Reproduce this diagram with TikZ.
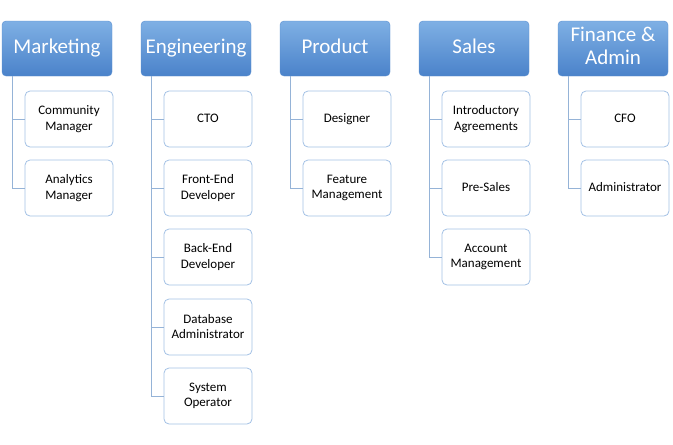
\documentclass[tikz,border=0pt]{standalone}
\usepackage{fontspec}
\setmainfont{Carlito}
\definecolor{headtop}{HTML}{7FB0E4}
\definecolor{headbot}{HTML}{4A82CA}
\definecolor{headline}{HTML}{5B8FD0}
\definecolor{childline}{HTML}{A3C1E5}
\definecolor{connline}{HTML}{95B3D7}
\newcommand\headstrut{\rule[-5pt]{0pt}{15pt}}
\newcommand\childstrut{\rule[-1.5pt]{0pt}{9.9pt}}
\tikzset{
  head/.style={draw=headline, rounded corners=4pt, top color=headtop, bottom color=headbot,
    minimum width=110pt, minimum height=55pt, text=white, font=\fontsize{21}{23}\selectfont,
    align=center, inner sep=1pt, execute at begin node=\headstrut, execute at end node=\headstrut},
  child/.style={draw=childline, line width=0.8pt, rounded corners=5pt, fill=white,
    minimum width=88pt, minimum height=56pt, font=\fontsize{13}{15.5}\selectfont,
    align=center, inner sep=1pt, execute at begin node=\childstrut, execute at end node=\childstrut},
  conn/.style={draw=connline, line width=1pt}
}
\begin{document}
\begin{tikzpicture}[x=1pt,y=-1pt]
\useasboundingbox (0,0) rectangle (673,445);
% heads
\node[head] (mkt) at (57,48.5) {Marketing};
\node[head] (eng) at (196,48.5) {Engineering};
\node[head] (prd) at (335,48.5) {Product};
\node[head] (sal) at (474,48.5) {Sales};
\node[head] (fin) at (613,48.5) {Finance \&\\Admin};
% marketing
\node[child] (mkt1) at (69,119) {Community\\Manager};
\node[child] (mkt2) at (69,188) {Analytics\\Manager};
% engineering
\node[child] (eng1) at (208,119) {CTO};
\node[child] (eng2) at (208,188) {Front-End\\Developer};
\node[child] (eng3) at (208,257) {Back-End\\Developer};
\node[child] (eng4) at (208,327) {Database\\Administrator};
\node[child] (eng5) at (208,396) {System\\Operator};
% product
\node[child] (prd1) at (347,119) {Designer};
\node[child] (prd2) at (347,188) {Feature\\Management};
% sales
\node[child] (sal1) at (486,119) {Introductory\\Agreements};
\node[child] (sal2) at (486,188) {Pre-Sales};
\node[child] (sal3) at (486,257) {Account\\Management};
% finance
\node[child] (fin1) at (625,119) {CFO};
\node[child] (fin2) at (625,188) {Administrator};
% connectors
\foreach \h/\c in {mkt/mkt1,mkt/mkt2,eng/eng1,eng/eng2,eng/eng3,eng/eng4,eng/eng5,
  prd/prd1,prd/prd2,sal/sal1,sal/sal2,sal/sal3,fin/fin1,fin/fin2}
  \draw[conn] ([xshift=11pt]\h.south west) |- (\c.west);
\end{tikzpicture}
\end{document}
